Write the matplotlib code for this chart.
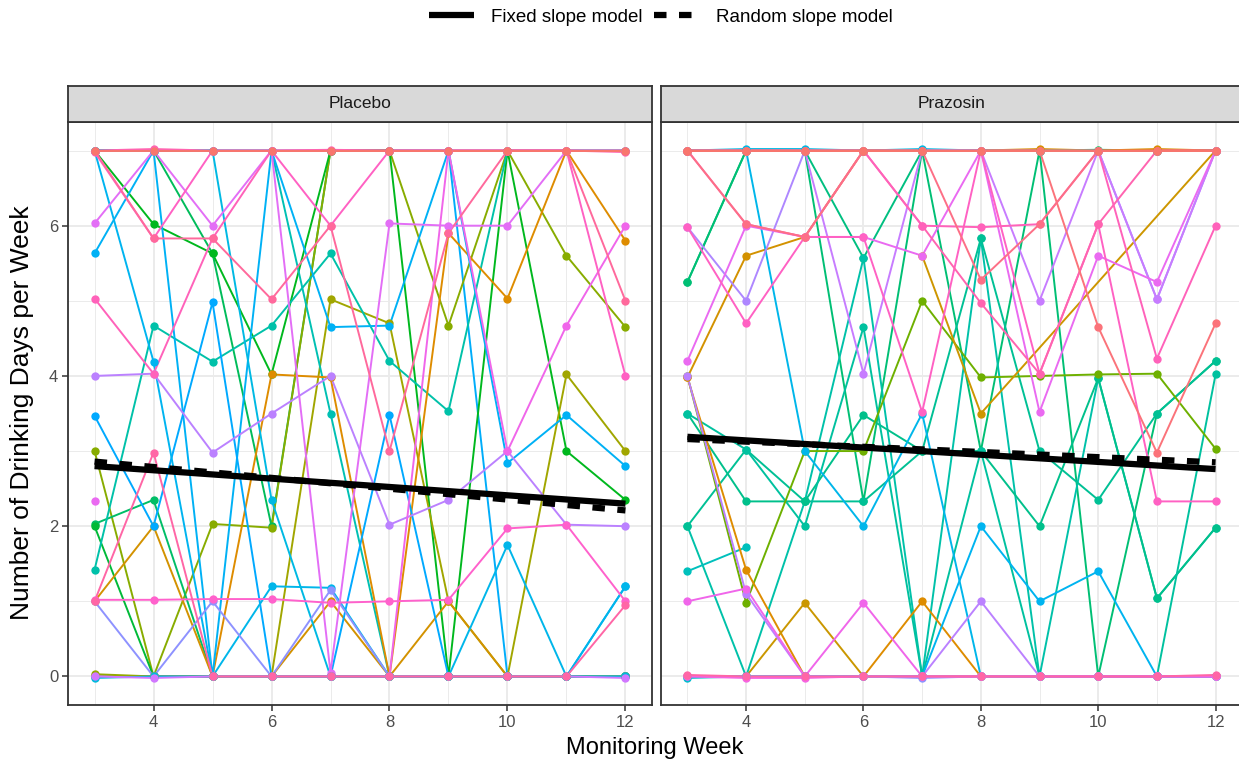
import numpy as np
import matplotlib
matplotlib.use("Agg")
import matplotlib.pyplot as plt
from matplotlib.lines import Line2D

plt.rcParams['font.family'] = ['Liberation Sans', 'DejaVu Sans']

nan = np.nan
weeks = [3, 4, 5, 6, 7, 8, 9, 10, 11, 12]
panels = ["Placebo", "Prazosin"]

# ---- subject trajectories (drinking days per week), weeks 3..12 ----
placebo = [
    [7, 7, 7, 7, 7, 7, 7, 0.0, 0.0, 0.0],
    [7, 7, 5.63, 2.0, 7, 7, 7, 7, 7, 7],
    [3.0, 0.0, 2.03, 1.98, 7, 7, 4.67, 7, 5.6, 4.65],
    [7, 6.02, 5.63, 4.02, 7, 7, 0.0, 7, 3.0, 2.35],
    [2.03, 2.35, 0.0, 0.0, 0.0, 0.0, 0.0, 0.0, 0.0, 0.0],
    [2.0, 0.0, 0.0, 0.0, 0.0, 0.0, 0.0, 0.0, 0.0, 0.0],
    [0.0, 0.0, 0.0, 0.0, 5.02, 4.7, 1.0, 0.0, 4.02, 3.0],
    [1.42, 4.67, 4.19, 4.67, 5.63, 4.2, 3.53, 7, 7, 7],
    [7, 7, 7, 7, 3.5, 0.0, 0.0, 0.0, 0.0, 0.0],
    [1.0, 2.0, 0.0, 0.0, 1.0, 0.0, 1.0, 0.0, 0.0, 0.0],
    [0.0, 0.0, 0.0, 4.02, 3.98, 0.0, 5.9, 5.03, 7, 5.8],
    [5.63, 7, 0.0, 7, 4.65, 4.67, 7, 2.84, 3.48, 2.8],
    [3.47, 2.0, 4.98, 0.0, 0.0, 3.48, 0.0, 0.0, 0.0, 1.2],
    [0.0, 0.0, 0.0, 1.2, 1.18, 0.0, 0.0, 1.75, 0.0, 1.2],
    [7, 7, 7, 2.35, 0.0, 0.0, 0.0, 0.0, 0.0, 0.0],
    [7, 4.19, 0.0, 0.0, 0.0, 0.0, 0.0, 0.0, 0.0, 0.0],
    [1.0, 0.0, 1.0, 0.0, 1.15, 0.0, 0.0, 0.0, 0.0, 0.0],
    [4.0, 4.03, 2.98, 3.5, 4.0, 2.02, 2.35, 3.0, 2.02, 2.0],
    [0.0, 0.0, 0.0, 0.0, 0.0, 0.0, 7, 3.0, 4.67, 6.0],
    [6.03, 7, 6.0, 7, 0.05, 6.03, 6.0, 6.0, 7, 7],
    [2.33, nan, nan, nan, nan, nan, nan, nan, nan, nan],
    [0.03, 0.0, 0.0, 0.0, 0.0, 0.0, 0.0, 0.0, 0.0, 0.0],
    [-0.02, 0.0, 0.0, 0.0, 0.0, 0.0, 0.0, 0.0, 0.0, 0.0],
    [0.0, -0.02, 0.0, 0.0, 0.0, 0.0, 0.0, 0.0, 0.0, -0.02],
    [1.02, 1.02, 1.03, 1.03, 0.98, 1.0, 1.02, 1.97, 2.02, 1.0],
    [1.0, 2.98, 0.0, 0.0, 0.0, 0.0, 0.0, 0.0, 0.0, 0.95],
    [5.03, 4.03, 5.83, 7, 7, 7, 7, 7, 7, 7],
    [6.98, 5.83, 7, 7, 6.0, 7, 7, 7, 7, 4.0],
    [7, 5.83, 5.83, 5.02, 6.0, 3.0, 5.9, 7, 7, 5.0],
    [7, 7.02, 7, 7, 7.01, 7, 7, 7, 7, 6.98],
    [7, 7, 7, 7, 7, 7, 7, 7, 7, 7],
]
placebo_hues = [235, 145, 100, 130, 150, 135, 88, 180, 185, 55, 45, 230, 240,
                220, 215, 225, 265, 280, 310, 300, 305, 95, 210, 290, 330, 350,
                340, 335, 355, 345, 15]

prazosin = [
    [7, 7, 7, 7, 7, 7, 7, 7.01, 7, 7],
    [5.25, 7, 7, 5.57, 7, 7, 7, 7, 7, 7],
    [5.25, 7, 7, 2.33, 7, 3.0, 7, 0.0, 3.5, 4.2],
    [2.0, 0.0, 2.33, 5.57, 0.0, 5.83, 0.0, 3.97, 1.04, 1.98],
    [2.0, 3.02, 2.33, 2.33, 3.0, 5.83, 3.0, 2.35, 3.5, 4.2],
    [3.5, 2.33, 2.33, 3.48, 3.0, 3.0, 2.0, 3.97, 1.04, 1.98],
    [3.5, 3.02, 2.0, 4.65, 0.0, 3.0, 0.0, 0.0, 0.0, 4.02],
    [1.4, 1.72, nan, nan, nan, nan, nan, nan, nan, nan],
    [4.0, 0.98, 3.0, 3.0, 5.0, 3.98, 4.0, 4.02, 4.03, 3.03],
    [3.98, 1.42, 0.0, 0.0, 1.0, 0.0, 0.0, 0.0, 0.0, 0.0],
    [nan, nan, nan, nan, 5.6, 3.5, nan, nan, nan, 7],
    [0.0, 0.0, 0.98, 0.0, 0.0, 0.0, 0.0, 0.0, 0.0, 0.0],
    [3.98, 5.6, 5.85, 7, 7, 7, 7, 7, 7, 7],
    [7, 7, 3.0, 2.0, 3.5, 0.0, 0.0, 0.0, 0.0, 0.0],
    [0.0, 0.0, 0.0, 0.0, 0.0, 2.0, 1.0, 1.4, 0.0, 0.0],
    [-0.02, 0.0, 0.0, 0.0, 0.0, 0.0, 0.0, 0.0, 0.0, 0.0],
    [7, 7.02, 7.02, 7, 7.02, 7, 7, 7, 7, 7],
    [7, 7, 7, 7, 7, 7, 7.02, 7, 7.02, 7],
    [4.0, 1.1, 0.0, 0.0, 0.0, 1.0, 0.0, 0.0, 0.0, 0.0],
    [5.98, 5.0, 7, 7, 7, 7, 7, 7, 5.02, 7],
    [7, 7, 7, 4.03, 7, 7, 5.0, 7, 5.02, 7],
    [0.0, 0.0, 0.0, 0.0, -0.02, 0.0, 0.0, 0.0, 0.0, 0.0],
    [4.2, 6.0, 5.85, 5.85, 5.6, 7, 3.52, 5.6, 5.25, 7],
    [1.0, 1.17, 0.0, 0.98, 0.0, 0.0, 0.0, 0.0, 0.0, 0.0],
    [0.0, -0.02, -0.02, 0.0, 0.0, 0.0, 0.0, 0.0, 0.0, 0.0],
    [0.02, 0.0, 0.0, 0.0, 0.0, 0.0, 0.0, 0.0, 0.0, 0.02],
    [5.98, 4.7, 5.85, 5.85, 3.52, 7, 4.03, 6.02, 2.33, 2.33],
    [7, 7, 7, 7, 6.0, 4.97, 4.03, 6.02, 7, 7],
    [7, 6.02, 5.85, 7, 6.0, 5.98, 6.02, 7, 4.23, 6.0],
    [7, 7, 7, 7, 7, 7, 7, 4.65, 2.98, 4.7],
    [7, 6.02, 5.85, 7, 7, 5.28, 6.02, 7, 7, 7],
    [7, 7, 7, 7, 7, 7, 7, 7, 7, 7],
]
prazosin_hues = [140, 160, 155, 180, 170, 165, 175, 190, 110, 45, 60, 62, 55,
                 220, 225, 200, 215, 50, 280, 275, 285, 265, 305, 310, 315, 350,
                 335, 345, 340, 10, 5, 15]

# ---- model predictions (start at week 3, end at week 12) ----
model_weeks = [3, 12]
fixed_placebo = [2.80, 2.30]
random_placebo = [2.86, 2.21]
fixed_prazosin = [3.19, 2.76]
random_prazosin = [3.16, 2.85]


def hcl_hex(h, c=100.0, l=65.0):
    hr = np.deg2rad(h)
    u, v = c * np.cos(hr), c * np.sin(hr)
    Xn, Yn, Zn = 95.047, 100.0, 108.883
    un = 4 * Xn / (Xn + 15 * Yn + 3 * Zn)
    vn = 9 * Yn / (Xn + 15 * Yn + 3 * Zn)
    Y = Yn * ((l + 16) / 116) ** 3
    up = u / (13 * l) + un
    vp = v / (13 * l) + vn
    X = 9.0 * Y * up / (4 * vp)
    Z = -X / 3 - 5 * Y + 3 * Y / vp
    xyz = np.array([X, Y, Z]) / 100.0
    M = np.array([[3.240479, -1.537150, -0.498535],
                  [-0.969256, 1.875992, 0.041556],
                  [0.055648, -0.204043, 1.057311]])
    rgb = M @ xyz
    rgb = np.where(rgb > 0.0031308, 1.055 * np.clip(rgb, 0, None) ** (1 / 2.4) - 0.055, 12.92 * rgb)
    rgb = np.clip(rgb, 0, 1)
    return tuple(rgb)


W, H = 1239, 768
fig = plt.figure(figsize=(W / 100, H / 100), dpi=100)

panel_top, panel_bot = 122, 705
strip_top = 86
lefts = [68, 661]
rights = [652, 1242]
axes = []
for i in range(2):
    ax = fig.add_axes([lefts[i] / W, (H - panel_bot) / H,
                       (rights[i] - lefts[i]) / W, (panel_bot - panel_top) / H])
    axes.append(ax)
    sax = fig.add_axes([lefts[i] / W, (H - panel_top) / H,
                        (rights[i] - lefts[i]) / W, (panel_top - strip_top) / H])
    sax.set_facecolor('#D9D9D9')
    sax.set_xticks([]); sax.set_yticks([])
    for s in sax.spines.values():
        s.set_color('#333333'); s.set_linewidth(1.3)
    sax.text(0.5, 0.5, panels[i], ha='center', va='center', fontsize=12.5,
             color='#1A1A1A', transform=sax.transAxes)

datasets = [(placebo, placebo_hues, fixed_placebo, random_placebo),
            (prazosin, prazosin_hues, fixed_prazosin, random_prazosin)]

for i, ax in enumerate(axes):
    subj, hues, fx, rd = datasets[i]
    ax.set_xlim(2.55, 12.45)
    ax.set_ylim(-0.38, 7.38)
    ax.set_xticks([4, 6, 8, 10, 12])
    ax.set_xticks([3, 5, 7, 9, 11], minor=True)
    ax.set_yticks([0, 2, 4, 6])
    ax.set_yticks([1, 3, 5, 7], minor=True)
    ax.grid(which='major', color='#EBEBEB', linewidth=1.4, zorder=0)
    ax.grid(which='minor', color='#EBEBEB', linewidth=0.7, zorder=0)
    ax.set_axisbelow(True)
    for s in ax.spines.values():
        s.set_color('#333333'); s.set_linewidth(1.3)
    ax.tick_params(which='major', length=4, width=1.1, color='#333333',
                   labelsize=12, labelcolor='#4D4D4D', pad=3)
    ax.tick_params(which='minor', length=0)
    if i == 1:
        ax.tick_params(axis='y', which='both', labelleft=False, length=0)
    cols = [hcl_hex(h) for h in hues]
    for vals, col in zip(subj, cols):
        y = np.array(vals, dtype=float)
        m = ~np.isnan(y)
        ax.plot(np.array(weeks)[m], y[m], color=col, linewidth=1.4, zorder=2)
    for vals, col in zip(subj, cols):
        y = np.array(vals, dtype=float)
        ax.plot(weeks, y, linestyle='none', marker='o', markersize=6,
                color=col, markeredgewidth=0, zorder=3)
    ax.plot(model_weeks, fx, color='black', linewidth=4.5, solid_capstyle='butt',
            zorder=5, label='Fixed slope model')
    ax.plot(model_weeks, rd, color='black', linewidth=4.5, dashes=(2, 2),
            dash_capstyle='butt', zorder=5, label='Random slope model')

fig.text(655 / W, 1 - 748 / H, 'Monitoring Week', ha='center', va='center',
         fontsize=17, color='black')
fig.text(22 / W, 1 - 413 / H, 'Number of Drinking Days per Week', ha='center',
         va='center', rotation=90, fontsize=19, color='black')

handles = [Line2D([], [], color='black', linewidth=4.5, solid_capstyle='butt'),
           Line2D([], [], color='black', linewidth=4.5, dashes=(2, 2), dash_capstyle='butt')]
fig.legend(handles, ['Fixed slope model', 'Random slope model'],
           loc='center', bbox_to_anchor=(661 / W, 1 - 17 / H), ncol=2,
           frameon=False, fontsize=13.5, handlelength=2.4, columnspacing=0.6,
           handletextpad=0.9)

fig.savefig('out.png', dpi=100)
